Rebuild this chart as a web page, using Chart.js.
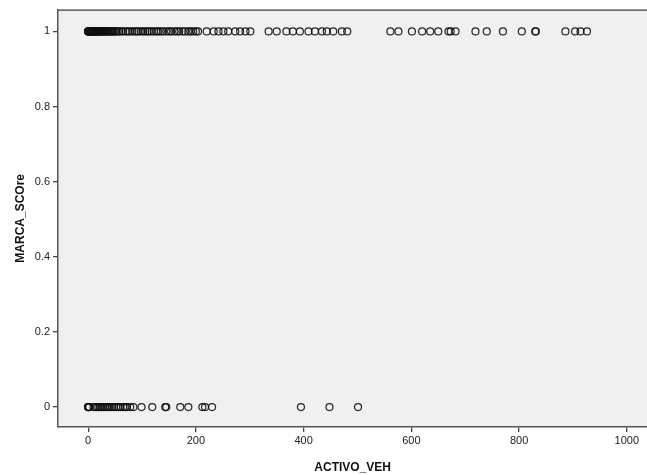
<!DOCTYPE html>
<html>
<head>
<meta charset="utf-8">
<script src="https://cdn.jsdelivr.net/npm/chart.js@4"></script>
<style>
  html, body { margin: 0; padding: 0; background: #ffffff; overflow: hidden; }
  #wrap { width: 652px; height: 475px; position: relative; }
  #scatterChart { display: block; }
</style>
</head>
<body>
<div id="wrap"><canvas id="scatterChart"></canvas></div>
<script>
// DADOS

// ACTIVO_VEH para os casos com MARCA_SCOre = 1
const activoMarca1 = [
    0, 0, 0, 1, 2, 3, 4, 5, 6, 7, 8, 9, 10, 11, 12, 13, 14, 15, 16, 17, 18, 19, 20, 21, 22,
    24, 25, 26, 28, 30, 31, 33, 35, 36, 38, 40, 42, 44, 45, 47, 50, 52, 55,
    58, 62, 65, 70, 74, 77, 82, 86, 90, 93, 98, 102, 106, 110, 113, 118, 122, 127, 130,
    135, 139, 145, 150, 154, 160, 165, 169, 175, 180, 186, 190, 195, 200, 204,
    220, 233, 242, 251, 260, 273, 282, 292, 301,
    335, 350, 368, 380, 393, 409, 421, 434, 443, 455, 471, 481,
    561, 576, 601, 620, 635, 650, 669, 673, 682,
    719, 740, 770, 805, 830, 831,
    886, 904, 914, 926
];

// ACTIVO_VEH para os casos com MARCA_SCOre = 0
const activoMarca0 = [
    0, 0, 0, 1, 2, 10, 13, 16, 19, 22, 25, 28, 31, 34, 37, 40, 44, 48, 52, 56, 60, 65,
    69, 72, 78, 84, 99, 119, 143, 145, 171, 186, 212, 217, 230,
    395, 448, 501
];

const xTicks = [0, 200, 400, 600, 800, 1000];
const yTicks = [0, 0.2, 0.4, 0.6, 0.8, 1];

// Fundo cinza da área do gráfico e linha superior
const plotBackground = {
    id: 'plotBackground',
    beforeDraw(chart) {
        const { ctx, chartArea: a } = chart;
        ctx.save();
        ctx.fillStyle = '#f0f0f0';
        ctx.fillRect(a.left, a.top, chart.width - a.left, a.bottom - a.top);
        ctx.strokeStyle = '#111111';
        ctx.lineWidth = 1;
        ctx.beginPath();
        ctx.moveTo(a.left, a.top + 0.5);
        ctx.lineTo(chart.width, a.top + 0.5);
        ctx.stroke();
        ctx.restore();
    }
};

const pointStyle = {
    pointRadius: 3.5,
    pointHoverRadius: 3.5,
    pointBorderWidth: 1.2,
    borderColor: 'rgba(15,15,15,0.9)',
    backgroundColor: 'rgba(0,0,0,0)',
    showLine: false,
    clip: false
};

// rótulos sem separador de milhar e sem ".0"
const plainLabel = v => String(Math.round(v * 10) / 10);

const ctx = document.getElementById('scatterChart').getContext('2d');
new Chart(ctx, {
    type: 'scatter',
    data: {
        datasets: [
            Object.assign({ label: 'MARCA 1', data: activoMarca1.map(v => ({ x: v, y: 1 })) }, pointStyle),
            Object.assign({ label: 'MARCA 0', data: activoMarca0.map(v => ({ x: v, y: 0 })) }, pointStyle)
        ]
    },
    plugins: [plotBackground],
    options: {
        responsive: true,
        maintainAspectRatio: false,
        animation: false,
        layout: { padding: { top: 8, right: 0, left: 0, bottom: 0 } },
        plugins: {
            legend: { display: false },
            tooltip: { enabled: false }
        },
        scales: {
            x: {
                type: 'linear',
                min: -56,
                max: 1038,
                afterBuildTicks: s => { s.ticks = xTicks.map(v => ({ value: v })); },
                afterFit: s => { s.height = 48; s.paddingRight = 0; },
                ticks: { color: '#222', font: { family: 'Liberation Sans', size: 11 }, padding: 2, maxRotation: 0, callback: plainLabel },
                grid: { drawOnChartArea: false, drawTicks: true, tickLength: 5, color: '#444', lineWidth: 1.3 },
                border: { display: true, color: '#555', width: 1.5 },
                title: {
                    display: true, text: 'ACTIVO_VEH', color: '#111',
                    font: { family: 'Liberation Sans', size: 12, weight: 'bold' },
                    padding: { top: 0, bottom: 0 }
                }
            },
            y: {
                type: 'linear',
                min: -0.053,
                max: 1.058,
                afterBuildTicks: s => { s.ticks = yTicks.map(v => ({ value: v })); },
                afterFit: s => { s.width = 58; },
                ticks: { color: '#222', font: { family: 'Liberation Sans', size: 11 }, padding: 3, callback: plainLabel },
                grid: { drawOnChartArea: false, drawTicks: true, tickLength: 5, color: '#444', lineWidth: 1.3 },
                border: { display: true, color: '#555', width: 1.5 },
                title: {
                    display: true, text: 'MARCA_SCOre', color: '#111',
                    font: { family: 'Liberation Sans', size: 12, weight: 'bold' },
                    padding: { top: 13, bottom: 0 }
                }
            }
        }
    }
});
</script>
</body>
</html>
